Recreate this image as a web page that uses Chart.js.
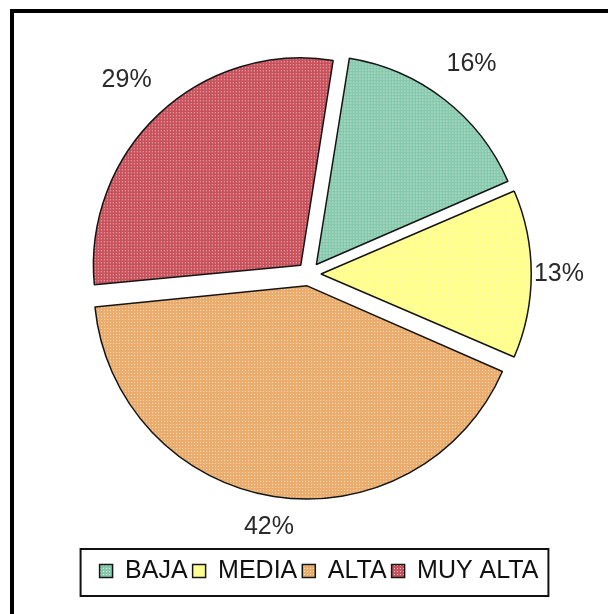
<!DOCTYPE html>
<html>
<head>
<meta charset="utf-8">
<script src="https://cdn.jsdelivr.net/npm/chart.js@4.4.0/dist/chart.umd.min.js"></script>
<style>
  html, body { margin: 0; padding: 0; background: #fff; overflow: hidden; }
  #marco { position: absolute; left: 10px; top: 9px; width: 700px; height: 700px; border-left: 4px solid #000; border-top: 4px solid #000; }
  #grafico { position: absolute; left: 0; top: -12px; }
</style>
</head>
<body>
<div id="marco"></div>
<canvas id="grafico" width="608" height="612"></canvas>
<script>
const categorias = ['BAJA', 'MEDIA', 'ALTA', 'MUY ALTA']
const porcentajes = [16, 13, 42, 29]
// color base y color del punto de la trama de cada sector
const coloresBase = ['#86c9ad', '#ffff8b', '#eaac6d', '#c8525c']
const coloresPunto = ['#dcf0e8', '#fbfbc0', '#fae1be', '#f5c8cd']

const fuente = '"Liberation Sans", Arial, sans-serif'

// Trama de puntos tipo relleno de Excel
function trama(base, punto) {
  const c = document.createElement('canvas')
  c.width = 3
  c.height = 3
  const g = c.getContext('2d')
  g.fillStyle = base
  g.fillRect(0, 0, 3, 3)
  g.fillStyle = punto
  g.fillRect(1, 1, 1, 1)
  return g.createPattern(c, 'repeat')
}

const rellenos = coloresBase.map((base, i) => trama(base, coloresPunto[i]))

// Etiquetas de porcentaje fuera de cada sector
const etiquetasPorcentaje = {
  id: 'etiquetasPorcentaje',
  afterDatasetsDraw(chart) {
    const { ctx, chartArea } = chart
    const meta = chart.getDatasetMeta(0)
    ctx.save()
    ctx.font = '25px ' + fuente
    ctx.fillStyle = '#2a2a2a'
    ctx.textAlign = 'center'
    ctx.textBaseline = 'middle'
    meta.data.forEach((arc, i) => {
      const { startAngle, endAngle, outerRadius, x, y } = arc.getProps(['startAngle', 'endAngle', 'outerRadius', 'x', 'y'])
      const desplazamiento = (arc.options.offset || 0) / 4
      const medio = (startAngle + endAngle) / 2
      const texto = porcentajes[i] + '%'
      const ancho = ctx.measureText(texto).width
      const cos = Math.cos(medio)
      const sin = Math.sin(medio)
      const extension = Math.abs(cos) * ancho / 2 + Math.abs(sin) * 10
      const d = outerRadius + desplazamiento + 23 + extension
      let px = x + cos * d
      const py = y + sin * d
      // no salir del área por la derecha, pero sin pisar el sector
      px = Math.min(px, chartArea.right - 24 - ancho / 2)
      if (cos > 0) {
        px = Math.max(px, x + cos * (outerRadius + desplazamiento + 4) + ancho / 2)
      }
      ctx.fillText(texto, px, py)
    })
    ctx.restore()
  }
}

// La leyenda queda algo a la derecha del centro de la tarta
const desplazarLeyenda = {
  id: 'desplazarLeyenda',
  afterLayout(chart) {
    if (!chart.legend) return
    chart.legend.left += 10
    chart.legend.right += 10
  }
}

// Recuadro alrededor de la leyenda
const marcoLeyenda = {
  id: 'marcoLeyenda',
  afterDraw(chart) {
    const cajas = chart.legend && chart.legend.legendHitBoxes
    if (!cajas || !cajas.length) return
    const { ctx } = chart
    const primera = cajas[0]
    const ultima = cajas[cajas.length - 1]
    const izq = primera.left - 19
    const der = ultima.left + ultima.width + 10
    const medio = primera.top + primera.height / 2
    ctx.save()
    ctx.strokeStyle = '#111'
    ctx.lineWidth = 2
    ctx.strokeRect(izq, medio - 22, der - izq, 47)
    ctx.restore()
  }
}

try {
  new Chart(document.getElementById('grafico'), {
    type: 'pie',
    data: {
      labels: categorias,
      datasets: [{
        data: porcentajes,
        backgroundColor: rellenos,
        borderColor: '#151515',
        borderWidth: 1.5,
        offset: 48
      }]
    },
    options: {
      responsive: false,
      animation: false,
      events: [],
      rotation: 9,
      radius: 207,
      layout: {
        padding: { left: 10, right: 0, top: 6.5, bottom: 6.5 }
      },
      plugins: {
        tooltip: { enabled: false },
        legend: {
          position: 'bottom',
          labels: {
            boxWidth: 13,
            boxHeight: 13,
            padding: 5,
            color: '#111',
            font: { size: 25, family: fuente }
          }
        }
      }
    },
    plugins: [etiquetasPorcentaje, desplazarLeyenda, marcoLeyenda]
  })
} catch (error) {
  console.error(`Error al dibujar el gráfico: ${error}`)
}
</script>
</body>
</html>
